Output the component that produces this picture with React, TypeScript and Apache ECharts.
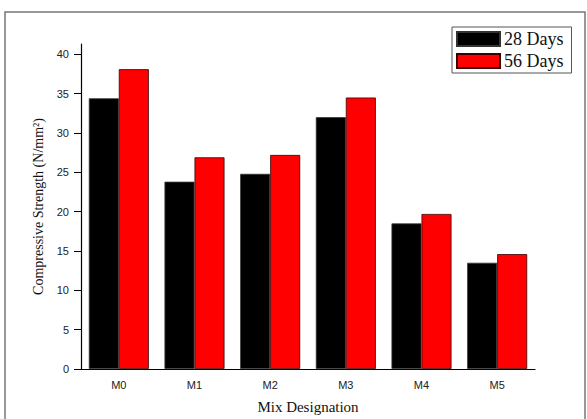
import React, { useEffect, useRef } from "react";
import * as echarts from "echarts";

const categories = ["M0", "M1", "M2", "M3", "M4", "M5"];
const days28 = [34.4, 23.8, 24.8, 32.0, 18.5, 13.5];
const days56 = [38.1, 26.9, 27.2, 34.5, 19.7, 14.6];
const yTicks = [0, 5, 10, 15, 20, 25, 30, 35, 40];

export default function App() {
  const ref = useRef<HTMLDivElement>(null);
  useEffect(() => {
    if (!ref.current) return;
    const chart = echarts.init(ref.current, null, { renderer: "svg" });
    const serif = "'Liberation Serif', 'Times New Roman', serif";
    const sans = "'Liberation Sans', Arial, sans-serif";
    chart.setOption({
      animation: false,
      backgroundColor: "#ffffff",
      grid: { left: 81, right: 52, top: 44, bottom: 49, containLabel: false },
      legend: {
        orient: "vertical",
        left: 452,
        top: 27,
        padding: [3, 8, 3, 4],
        itemGap: 4,
        itemWidth: 43,
        itemHeight: 14,
        icon: "rect",
        borderColor: "#555",
        borderWidth: 1,
        backgroundColor: "#fff",
        textStyle: { fontFamily: serif, fontSize: 18, color: "#111", padding: [0, 0, 0, -1] },
        data: ["28 Days", "56 Days"],
      },
      graphic: [
        {
          type: "polyline",
          shape: { points: [[5, 430], [5, 12], [585, 12], [585, 430]] },
          style: { stroke: "#777", lineWidth: 1.5, fill: "none" },
          silent: true,
        },
      ],
      xAxis: {
        type: "category",
        data: categories,
        boundaryGap: true,
        name: "Mix Designation",
        nameLocation: "middle",
        nameGap: 30,
        nameTextStyle: { fontFamily: serif, fontSize: 15, color: "#111" },
        axisLine: { lineStyle: { color: "#000", width: 1.2 } },
        axisTick: { alignWithLabel: true, length: 6, lineStyle: { color: "#000" } },
        axisLabel: { fontFamily: sans, fontSize: 11, color: "#222", margin: 10 },
      },
      yAxis: {
        type: "value",
        min: 0,
        max: 41.3,
        interval: 5,
        name: "Compressive Strength (N/mm²)",
        nameLocation: "middle",
        nameGap: 36,
        nameTextStyle: { fontFamily: serif, fontSize: 14, color: "#111" },
        axisLine: { show: true, lineStyle: { color: "#000", width: 1.2 } },
        axisTick: { show: true, length: 7, customValues: yTicks, lineStyle: { color: "#000" } },
        axisLabel: { fontFamily: sans, fontSize: 11, color: "#222", margin: 12, customValues: yTicks },
        splitLine: { show: false },
      },
      series: [
        {
          name: "28 Days",
          type: "bar",
          data: days28,
          barWidth: 30,
          barGap: "0%",
          itemStyle: { color: "#000000", borderColor: "#333", borderWidth: 0.8 },
        },
        {
          name: "56 Days",
          type: "bar",
          data: days56,
          barWidth: 30,
          itemStyle: { color: "#ff0000", borderColor: "#3a0000", borderWidth: 0.8 },
        },
      ],
    });
    return () => chart.dispose();
  }, []);
  return (
    <div
      ref={ref}
      style={{ position: "fixed", left: 0, top: 0, width: 587, height: 419 }}
    />
  );
}
